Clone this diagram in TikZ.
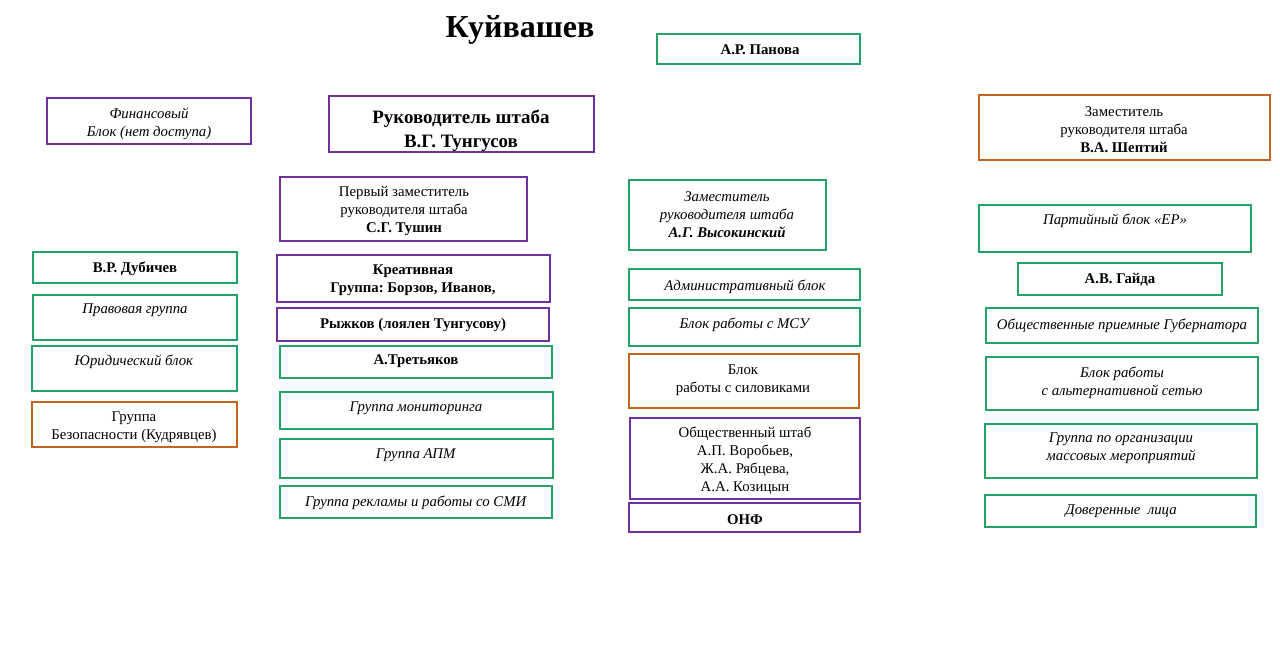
\documentclass[tikz,border=0pt]{standalone}
\usepackage{fontspec}
\setmainfont{Liberation Serif}
\usetikzlibrary{fit}
\frenchspacing
\definecolor{gr}{RGB}{34,164,104}
\definecolor{pu}{RGB}{112,48,160}
\definecolor{orn}{RGB}{197,100,30}
\tikzset{
  orgbox/.style={draw=#1, line width=1.5pt, inner sep=0pt},
  txt/.style={align=center, inner sep=0pt, yshift=-1.2pt, font=\fontsize{11.1}{13.5}\selectfont},
  bigtxt/.style={align=center, inner sep=0pt, yshift=-1pt, font=\fontsize{14.2}{18}\selectfont\bfseries},
}
\newcommand{\bx}[6]{\node[orgbox=#6, fit={(#2,#3)(#4,#5)}] (#1) {};}
\begin{document}
\begin{tikzpicture}[x=0.75pt,y=-0.75pt]
\useasboundingbox (0,0) rectangle (1280,670);
% title
\node[inner sep=0pt, font=\fontsize{24}{28}\selectfont\bfseries] (title) at (520,30) {Куйвашев};
% boxes
\bx{panova}{657}{34}{860}{64}{gr}
\bx{fin}{47}{98}{251}{144}{pu}
\bx{ruk}{329}{96}{594}{152}{pu}
\bx{shep}{979}{95}{1270}{160}{orn}
\bx{perv}{280}{177}{527}{241}{pu}
\bx{vys}{629}{180}{826}{250}{gr}
\bx{er}{979}{205}{1251}{252}{gr}
\bx{dub}{33}{252}{237}{283}{gr}
\bx{kreat}{277}{255}{550}{302}{pu}
\bx{ryzh}{277}{308}{549}{341}{pu}
\bx{gaida}{1018}{263}{1222}{295}{gr}
\bx{adm}{629}{269}{860}{300}{gr}
\bx{prav}{33}{295}{237}{340}{gr}
\bx{msu}{629}{308}{860}{346}{gr}
\bx{priem}{986}{308}{1258}{343}{gr}
\bx{yur}{32}{346}{237}{391}{gr}
\bx{tret}{280}{346}{552}{378}{gr}
\bx{sil}{629}{354}{859}{408}{orn}
\bx{alt}{986}{357}{1258}{410}{gr}
\bx{mon}{280}{392}{553}{429}{gr}
\bx{bez}{32}{402}{237}{447}{orn}
\bx{obsh}{630}{418}{860}{499}{pu}
\bx{mass}{985}{424}{1257}{478}{gr}
\bx{apm}{280}{439}{553}{478}{gr}
\bx{smi}{280}{486}{552}{518}{gr}
\bx{onf}{629}{503}{860}{532}{pu}
\bx{dov}{985}{495}{1256}{527}{gr}
% texts
\node[txt] (tpanova) at (760,48) {\textbf{А.Р. Панова}};
\node[txt] (tfin) at (149,122) {\textit{Финансовый}\\\textit{Блок (нет доступа)}};
\node[bigtxt] (truk) at (461,129) {Руководитель штаба\\В.Г. Тунгусов};
\node[txt] (tshep) at (1124,128) {Заместитель\\руководителя штаба\\\textbf{В.А. Шептий}};
\node[txt] (tperv) at (404,209.5) {Первый заместитель\\руководителя штаба\\\textbf{С.Г. Тушин}};
\node[txt] (tvys) at (727,213) {\textit{Заместитель}\\\textit{руководителя штаба}\\\textbf{\textit{А.Г. Высокинский}}};
\node[txt] (ter) at (1115,219) {\textit{Партийный блок «ЕР»}};
\node[txt] (tdub) at (135,267) {\textbf{В.Р. Дубичев}};
\node[txt] (tkreat) at (413,279) {\textbf{Креативная}\\\textbf{Группа: Борзов, Иванов,}};
\node[txt] (tryzh) at (413,323) {\textbf{Рыжков (лоялен Тунгусову)}};
\node[txt] (tgaida) at (1120,278) {\textbf{А.В. Гайда}};
\node[txt] (tadm) at (745,285) {\textit{Административный блок}};
\node[txt] (tprav) at (135,309) {\textit{Правовая группа}};
\node[txt] (tmsu) at (745,323) {\textit{Блок работы с МСУ}};
\node[txt] (tpriem) at (1122,324) {\textit{Общественные приемные Губернатора}};
\node[txt] (tyur) at (134,360) {\textit{Юридический блок}};
\node[txt] (ttret) at (416,360) {\textbf{А.Третьяков}};
\node[txt] (tsil) at (743,379) {Блок\\работы с силовиками};
\node[txt] (talt) at (1122,381) {\textit{Блок работы}\\\textit{с альтернативной сетью}};
\node[txt] (tmon) at (416,407) {\textit{Группа мониторинга}};
\node[txt] (tbez) at (134,425.5) {Группа\\Безопасности (Кудрявцев)};
\node[txt] (tobsh) at (745,459.5) {Общественный штаб\\А.П. Воробьев,\\Ж.А. Рябцева,\\А.А. Козицын};
\node[txt] (tmass) at (1121,447) {\textit{Группа по организации}\\\textit{массовых мероприятий}};
\node[txt] (tapm) at (416,454) {\textit{Группа АПМ}};
\node[txt] (tsmi) at (416,501) {\textit{Группа рекламы и работы со СМИ}};
\node[txt] (tonf) at (745,518) {\textbf{ОНФ}};
\node[txt] (tdov) at (1121,510) {\textit{Доверенные\ \ лица}};
\end{tikzpicture}
\end{document}
